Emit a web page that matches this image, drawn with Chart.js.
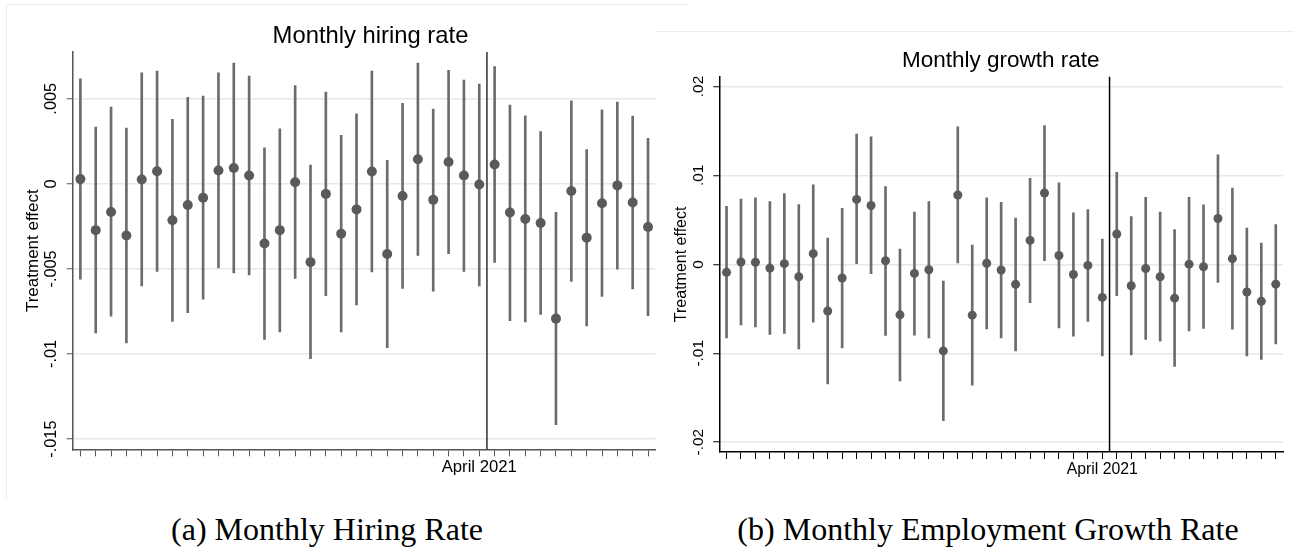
<!DOCTYPE html>
<html lang="en">
<head>
    <meta charset="UTF-8">
    <title>Treatment effects: monthly hiring and growth rate</title>
    <script src="https://cdn.jsdelivr.net/npm/chart.js"></script>
    <style>
        body {
            margin: 0;
            width: 1294px;
            height: 553px;
            position: relative;
            overflow: hidden;
            background: #fff;
            font-family: "Liberation Sans", Arial, sans-serif;
        }
        .frame-a {
            position: absolute;
            left: 6px;
            top: 4px;
            width: 681px;
            height: 493px;
            border-top: 1px solid #ececec;
            border-left: 1px solid #ececec;
        }
        #wrapA {
            position: absolute;
            left: 0;
            top: 0;
        }
        #wrapB {
            position: absolute;
            left: 656px;
            top: 31px;
            background: #fff;
            border-top: 1px solid #ececec;
        }
        canvas { display: block; }
        .caption {
            position: absolute;
            top: 513px;
            font-family: "Liberation Serif", "Times New Roman", serif;
            font-size: 32px;
            line-height: 32px;
            white-space: nowrap;
            transform: translateX(-50%);
            color: #000;
        }
    </style>
</head>
<body>
    <div class="frame-a"></div>
    <div id="wrapA"><canvas id="hiringChart" width="690" height="500"></canvas></div>
    <div id="wrapB"><canvas id="growthChart" width="638" height="470"></canvas></div>
    <div class="caption" style="left:327px">(a) Monthly Hiring Rate</div>
    <div class="caption" style="left:988px">(b) Monthly Employment Growth Rate</div>

    <script>
        // months on the x axis (only the event month gets a label)
        const months = [
            'February 2019', 'March 2019', 'April 2019', 'May 2019', 'June 2019', 'July 2019',
            'August 2019', 'September 2019', 'October 2019', 'November 2019', 'December 2019',
            'January 2020', 'February 2020', 'March 2020', 'April 2020', 'May 2020', 'June 2020',
            'July 2020', 'August 2020', 'September 2020', 'October 2020', 'November 2020',
            'December 2020', 'January 2021', 'February 2021', 'March 2021', 'April 2021',
            'May 2021', 'June 2021', 'July 2021', 'August 2021', 'September 2021', 'October 2021',
            'November 2021', 'December 2021', 'January 2022', 'February 2022', 'March 2022',
            'April 2022'
        ];
        const eventMonth = 'April 2021';

        // (a) hiring rate: point estimates and 95% CI
        const hiringEst = [
            0.00028, -0.00272, -0.00165, -0.00303, 0.00026, 0.00074, -0.00214, -0.00124,
            -0.00082, 0.00079, 0.00093, 0.00049, -0.0035, -0.00272, 0.0001, -0.0046,
            -0.00059, -0.00293, -0.0015, 0.00073, -0.00412, -0.00071, 0.00145, -0.00094,
            0.00129, 0.00049, -0.00004, 0.00114, -0.00168, -0.00206, -0.0023, -0.00792,
            -0.00042, -0.00316, -0.00114, -0.00009, -0.0011, -0.00254
        ];
        const hiringLow = [
            -0.0056, -0.00876, -0.00778, -0.00935, -0.006, -0.00514, -0.00808, -0.00757,
            -0.00678, -0.00494, -0.00524, -0.00535, -0.00914, -0.0087, -0.00556, -0.01027,
            -0.00657, -0.0087, -0.00712, -0.00518, -0.00962, -0.00615, -0.0042, -0.0063,
            -0.0041, -0.00514, -0.006, -0.00462, -0.00804, -0.00812, -0.00768, -0.01415,
            -0.00574, -0.00835, -0.00662, -0.00502, -0.00618, -0.00774
        ];
        const hiringHigh = [
            0.00618, 0.00334, 0.00451, 0.00328, 0.00653, 0.00663, 0.0038, 0.00508,
            0.00516, 0.00653, 0.0071, 0.00634, 0.00212, 0.00324, 0.00577, 0.0011,
            0.0054, 0.00285, 0.00412, 0.00663, 0.00138, 0.00473, 0.0071, 0.0044,
            0.00667, 0.0061, 0.00586, 0.0069, 0.00463, 0.004, 0.00308, -0.00168,
            0.00488, 0.00202, 0.00435, 0.0048, 0.00398, 0.00267
        ];
        const hiringTicks = [-0.015, -0.01, -0.005, 0, 0.005];
        const hiringTickLabels = ['-.015', '-.01', '-.005', '0', '.005'];

        // (b) employment growth rate
        const growthEst = [
            -0.0009, 0.00026, 0.00023, -0.00042, 0.00008, -0.0014, 0.0012, -0.00525,
            -0.00154, 0.0073, 0.00662, 0.0004, -0.00568, -0.00102, -0.00061, -0.00973,
            0.0078, -0.00571, 0.00013, -0.00064, -0.00225, 0.00269, 0.00802, 0.00099,
            -0.00114, -0.00012, -0.00372, 0.00341, -0.00241, -0.00047, -0.00139, -0.0038,
            0.00002, -0.00027, 0.00516, 0.00064, -0.00311, -0.00416, -0.00223
        ];
        const growthLow = [
            -0.00827, -0.0068, -0.00703, -0.00788, -0.00777, -0.0095, -0.0065, -0.01345,
            -0.00939, 0.0, -0.00106, -0.008, -0.01311, -0.00796, -0.00827, -0.01757,
            0.00015, -0.01359, -0.00725, -0.00827, -0.00973, -0.00432, 0.0004, -0.00714,
            -0.00807, -0.00642, -0.01029, -0.00353, -0.01018, -0.00845, -0.00864, -0.01149,
            -0.00748, -0.00721, -0.00203, -0.00729, -0.01029, -0.0107, -0.00894
        ];
        const growthHigh = [
            0.00653, 0.00735, 0.00747, 0.00705, 0.00795, 0.00671, 0.00893, 0.00296,
            0.0063, 0.01464, 0.01434, 0.00874, 0.00172, 0.00589, 0.00705, -0.00188,
            0.01546, 0.00217, 0.00747, 0.00698, 0.00521, 0.00968, 0.01561, 0.00916,
            0.00578, 0.00615, 0.00285, 0.01036, 0.00536, 0.00755, 0.00589, 0.0039,
            0.00755, 0.00668, 0.01231, 0.00859, 0.00409, 0.0024, 0.00446
        ];
        const growthTicks = [-0.02, -0.01, 0, 0.01, 0.02];
        const growthTickLabels = ['-.02', '-.01', '0', '.01', '.02'];

        const FONT = '"Liberation Sans", Arial, sans-serif';

        // vertical line half way between the event month and the next one
        const eventLine = {
            id: 'eventLine',
            beforeDatasetsDraw(chart, args, opts) {
                const x = chart.scales.x;
                const i = chart.data.labels.indexOf(eventMonth);
                const px = (x.getPixelForValue(i) + x.getPixelForValue(i + 1)) / 2;
                const ctx = chart.ctx;
                ctx.save();
                ctx.strokeStyle = opts.color;
                ctx.lineWidth = opts.width;
                ctx.beginPath();
                ctx.moveTo(px, chart.chartArea.top);
                ctx.lineTo(px, chart.chartArea.bottom);
                ctx.stroke();
                ctx.restore();
            }
        };

        // graph title, centred a bit off the plot area like Stata does
        const panelTitle = {
            id: 'panelTitle',
            afterDraw(chart, args, opts) {
                const {left, right, top} = chart.chartArea;
                const ctx = chart.ctx;
                ctx.save();
                ctx.font = opts.size + 'px ' + FONT;
                ctx.fillStyle = '#000';
                ctx.textAlign = 'center';
                ctx.textBaseline = 'alphabetic';
                ctx.fillText(opts.text, (left + right) / 2 + opts.dx, top - opts.dy);
                ctx.restore();
            }
        };

        function makeChart(id, s) {
            const labels = months.slice(0, s.est.length);
            const ci = s.low.map((lo, i) => [lo, s.high[i]]);
            return new Chart(document.getElementById(id), {
                type: 'bar',
                data: {
                    labels: labels,
                    datasets: [{
                        type: 'line',
                        data: s.est,
                        showLine: false,
                        pointRadius: s.radius,
                        pointBackgroundColor: '#5a5a5a',
                        pointBorderWidth: 0,
                        order: 1
                    }, {
                        type: 'bar',
                        data: ci,
                        backgroundColor: '#6c6c6c',
                        barThickness: 2,
                        order: 2
                    }]
                },
                options: {
                    responsive: false,
                    animation: false,
                    events: [],
                    layout: { padding: s.padding },
                    plugins: {
                        legend: { display: false },
                        tooltip: { enabled: false },
                        eventLine: { color: s.axisColor === '#000' ? '#000' : '#2e2e2e', width: 1.5 },
                        panelTitle: { text: s.title, size: s.titleSize, dx: s.titleDx, dy: s.titleDy }
                    },
                    scales: {
                        x: {
                            offset: true,
                            afterFit: scale => { scale.height = s.xHeight; },
                            grid: {
                                offset: false,
                                drawOnChartArea: false,
                                tickLength: 7,
                                tickColor: s.axisColor,
                                tickWidth: 1
                            },
                            border: { color: s.axisColor, width: 1.5 },
                            ticks: {
                                autoSkip: false,
                                maxRotation: 0,
                                padding: 1,
                                color: '#000',
                                font: { family: FONT, size: s.xFont },
                                callback: function (v) {
                                    return this.getLabelForValue(v) === eventMonth ? eventMonth : '';
                                }
                            }
                        },
                        y: {
                            min: s.yMin,
                            max: s.yMax,
                            afterBuildTicks: scale => { scale.ticks = s.ticks.map(v => ({ value: v })); },
                            afterFit: scale => { scale.width = s.yWidth; },
                            grid: {
                                color: '#e8e8e8',
                                lineWidth: 1.5,
                                tickColor: s.axisColor,
                                tickLength: 6,
                                tickWidth: 1
                            },
                            border: { color: s.axisColor, width: 1.5 },
                            ticks: {
                                minRotation: 90,
                                maxRotation: 90,
                                crossAlign: 'center',
                                padding: s.yTickPad,
                                color: '#000',
                                font: { family: FONT, size: s.yFont },
                                callback: (v, i) => s.tickLabels[i]
                            },
                            title: {
                                display: true,
                                text: 'Treatment effect',
                                color: '#000',
                                font: { family: FONT, size: s.yTitleFont },
                                padding: { top: s.yTitlePad, bottom: 0 }
                            }
                        }
                    }
                },
                plugins: [eventLine, panelTitle]
            });
        }

        // (a) Monthly hiring rate
        const hiringChart = makeChart('hiringChart', {
            est: hiringEst, low: hiringLow, high: hiringHigh,
            ticks: hiringTicks, tickLabels: hiringTickLabels,
            yMin: -0.0156, yMax: 0.00775,
            title: 'Monthly hiring rate', titleSize: 23.8, titleDx: 6.3, titleDy: 8.7,
            padding: { top: 52, right: 34.3, bottom: 0, left: 0 },
            xHeight: 50.7, yWidth: 72.7,
            radius: 5, axisColor: '#555',
            xFont: 16.7, yFont: 16.3, yTickPad: -3.5, yTitleFont: 17, yTitlePad: 23.3
        });

        // (b) Monthly growth rate
        const growthChart = makeChart('growthChart', {
            est: growthEst, low: growthLow, high: growthHigh,
            ticks: growthTicks, tickLabels: growthTickLabels,
            yMin: -0.0211, yMax: 0.0211,
            title: 'Monthly growth rate', titleSize: 22.5, titleDx: -0.4, titleDy: 10,
            padding: { top: 44.7, right: 11, bottom: 0, left: 0 },
            xHeight: 50, yWidth: 63.3,
            radius: 4.5, axisColor: '#000',
            xFont: 15.8, yFont: 15.4, yTickPad: 1.7, yTitleFont: 16, yTitlePad: 16.1
        });
    </script>
</body>
</html>
